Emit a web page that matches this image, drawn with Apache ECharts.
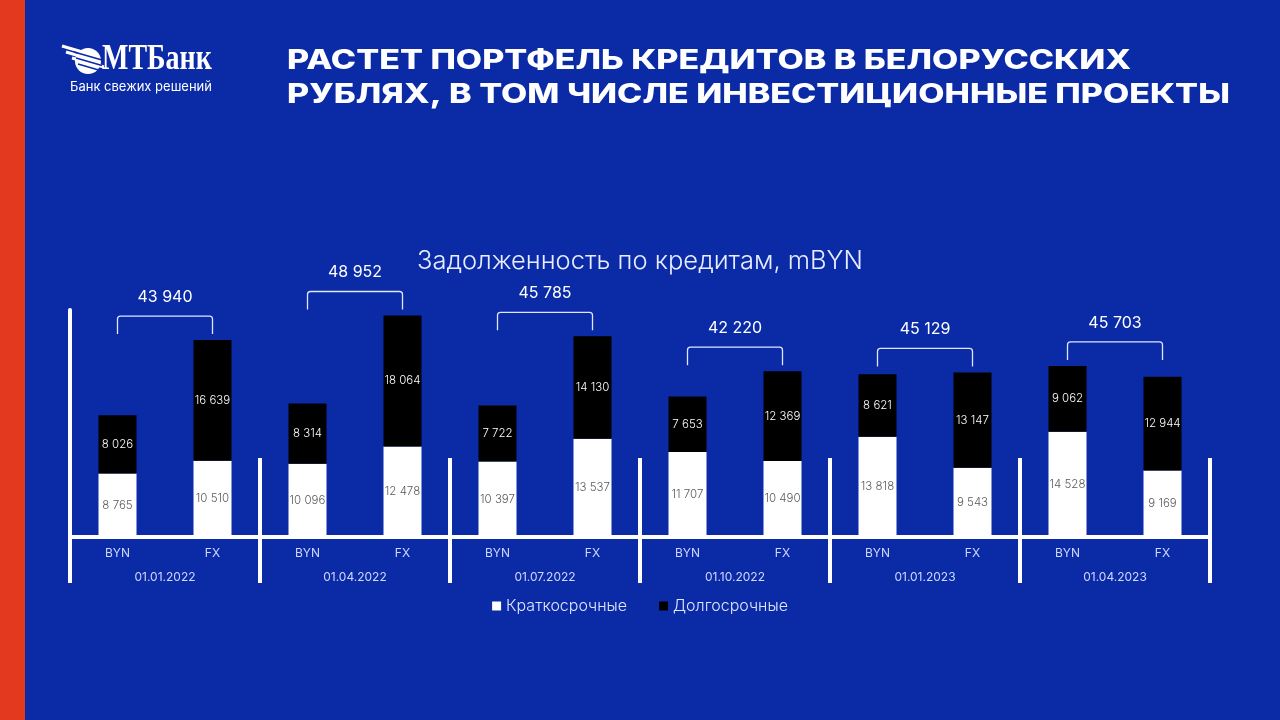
<!DOCTYPE html>
<html>
<head>
<meta charset="UTF-8">
<title>Задолженность по кредитам</title>
<script src="https://cdn.jsdelivr.net/npm/echarts@6/dist/echarts.min.js"></script>
<style>
  html, body { margin: 0; padding: 0; background: #0b2ba6; }
  #j-chart { width: 1280px; height: 720px; }
</style>
</head>
<body>
<div id="j-chart"></div>
<script type="text/javascript">

  // данные с графика
  var currencies = ['BYN', 'FX', 'BYN', 'FX', 'BYN', 'FX', 'BYN', 'FX', 'BYN', 'FX', 'BYN', 'FX'];
  var dates = ['01.01.2022', '01.04.2022', '01.07.2022', '01.10.2022', '01.01.2023', '01.04.2023'];
  var shortTerm = [8765, 10510, 10096, 12478, 10397, 13537, 11707, 10490, 13818, 9543, 14528, 9169];
  var longTerm = [8026, 16639, 8314, 18064, 7722, 14130, 7653, 12369, 8621, 13147, 9062, 12944];
  var totals = [43940, 48952, 45785, 42220, 45129, 45703];

  var fmt = function (v) {
    return String(v).replace(/\B(?=(\d{3})+(?!\d))/g, ' ');
  };

  // скобки над парами столбцов
  var brackets = [];
  for (var i = 0; i < totals.length; i++) {
    var a = i * 2, b = i * 2 + 1;
    var pairMax = Math.max(shortTerm[a] + longTerm[a], shortTerm[b] + longTerm[b]);
    brackets.push([a, b, pairMax, totals[i]]);
  }

  var font = "Inter, 'Noto Sans', sans-serif";
  var myChart = echarts.init(document.getElementById('j-chart'));

  var barLabel = {
    show: true,
    position: 'inside',
    fontSize: 11.5,
    fontWeight: 300,
    overflow: 'none',
    formatter: function (p) { return fmt(p.value); }
  };

  var option = {
    backgroundColor: '#0b2ba6',
    animation: false,
    textStyle: { fontFamily: font },
    title: {
      text: 'Задолженность по кредитам, mBYN',
      left: 'center',
      top: 243,
      textStyle: { color: '#e8edff', fontSize: 25.5, fontWeight: 300, fontFamily: font }
    },
    legend: {
      top: 593,
      left: 'center',
      icon: 'rect',
      itemWidth: 9,
      itemHeight: 9,
      itemGap: 32,
      textStyle: { color: '#dfe6ff', fontSize: 16, fontWeight: 300 },
      data: ['Краткосрочные', 'Долгосрочные']
    },
    grid: { left: 70, right: 70, top: 310, bottom: 183 },
    xAxis: [
      {
        type: 'category',
        data: currencies,
        axisLine: { lineStyle: { color: '#ffffff', width: 4 } },
        axisTick: { show: false },
        axisLabel: { color: '#cfd8ff', fontSize: 12, margin: 10 }
      },
      {
        type: 'category',
        data: dates,
        position: 'bottom',
        offset: 46,
        axisLine: { show: false },
        axisTick: {
          show: true,
          inside: true,
          length: 125,
          interval: 0,
          lineStyle: { color: '#ffffff', width: 4 }
        },
        axisLabel: { inside: true, color: '#cfd8ff', fontSize: 12, margin: 0 }
      }
    ],
    yAxis: {
      type: 'value',
      min: 0,
      max: 31300,
      axisLine: { show: true, lineStyle: { color: '#ffffff', width: 4 } },
      axisTick: { show: false },
      axisLabel: { show: false },
      splitLine: { show: false }
    },
    series: [
      {
        name: 'Краткосрочные',
        type: 'bar',
        stack: 'total',
        barWidth: 38,
        itemStyle: { color: '#ffffff' },
        label: Object.assign({ color: '#5a5a5a' }, barLabel),
        data: shortTerm
      },
      {
        name: 'Долгосрочные',
        type: 'bar',
        stack: 'total',
        barWidth: 38,
        itemStyle: { color: '#000000' },
        label: Object.assign({ color: '#ffffff' }, barLabel),
        data: longTerm
      },
      {
        type: 'custom',
        clip: false,
        silent: true,
        encode: { x: 0, y: 2 },
        data: brackets,
        renderItem: function (params, api) {
          var p1 = api.coord([api.value(0), api.value(2)]);
          var p2 = api.coord([api.value(1), api.value(2)]);
          var yb = p1[1] - 6, yt = yb - 18, r = 3;
          var x1 = p1[0], x2 = p2[0];
          return {
            type: 'group',
            children: [
              {
                type: 'path',
                shape: {
                  pathData: 'M' + x1 + ' ' + yb + ' L' + x1 + ' ' + (yt + r) +
                    ' Q' + x1 + ' ' + yt + ' ' + (x1 + r) + ' ' + yt +
                    ' L' + (x2 - r) + ' ' + yt +
                    ' Q' + x2 + ' ' + yt + ' ' + x2 + ' ' + (yt + r) +
                    ' L' + x2 + ' ' + yb
                },
                style: { fill: 'none', stroke: '#dfe6ff', lineWidth: 1.3 }
              },
              {
                type: 'text',
                style: {
                  text: fmt(api.value(3)),
                  x: (x1 + x2) / 2,
                  y: yt - 19,
                  align: 'center',
                  verticalAlign: 'middle',
                  fill: '#ffffff',
                  font: '400 16px ' + font
                }
              }
            ]
          };
        }
      }
    ],
    graphic: [
      { type: 'rect', shape: { x: 0, y: 0, width: 25, height: 720 }, style: { fill: '#e2391f' } },
      {
        type: 'text',
        x: 287,
        y: 44,
        scaleX: 1.26,
        style: {
          text: 'РАСТЕТ ПОРТФЕЛЬ КРЕДИТОВ В БЕЛОРУССКИХ\nРУБЛЯХ, В ТОМ ЧИСЛЕ ИНВЕСТИЦИОННЫЕ ПРОЕКТЫ',
          fill: '#ffffff',
          font: '800 27px ' + font,
          lineHeight: 34
        }
      },
      // логотип
      { type: 'circle', shape: { cx: 88, cy: 61, r: 13 }, style: { fill: '#ffffff' } },
      { type: 'line', shape: { x1: 62, y1: 46, x2: 96, y2: 56 }, style: { stroke: '#ffffff', lineWidth: 3 } },
      { type: 'line', shape: { x1: 66, y1: 52, x2: 100, y2: 62 }, style: { stroke: '#ffffff', lineWidth: 3 } },
      { type: 'line', shape: { x1: 72, y1: 58, x2: 104, y2: 67 }, style: { stroke: '#ffffff', lineWidth: 3 } },
      { type: 'line', shape: { x1: 74, y1: 52, x2: 102, y2: 60 }, style: { stroke: '#0b2ba6', lineWidth: 1.6 } },
      { type: 'line', shape: { x1: 76, y1: 58, x2: 102, y2: 65.5 }, style: { stroke: '#0b2ba6', lineWidth: 1.6 } },
      { type: 'line', shape: { x1: 78, y1: 64, x2: 102, y2: 71 }, style: { stroke: '#0b2ba6', lineWidth: 1.6 } },
      {
        type: 'text',
        x: 102,
        y: 42,
        scaleX: 0.8,
        style: { text: 'МТБанк', fill: '#ffffff', font: 'bold 35px "Liberation Serif", serif' }
      },
      {
        type: 'text',
        x: 70,
        y: 81,
        style: { text: 'Банк свежих решений', fill: '#ffffff', font: '13px ' + font }
      }
    ]
  };

  myChart.setOption(option);

</script>
</body>
</html>
